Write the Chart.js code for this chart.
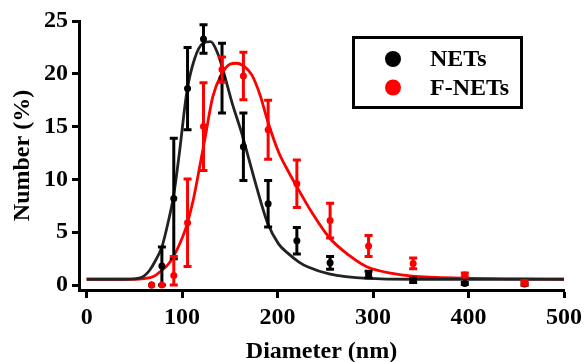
<!DOCTYPE html>
<html>
<head>
<meta charset="utf-8">
<script src="https://cdn.jsdelivr.net/npm/chart.js@4/dist/chart.umd.min.js"></script>
<style>
    body { margin: 0; background: #fff; }
    canvas { display: block; }
</style>
</head>
<body>
<canvas id="size-chart" width="587" height="362"></canvas>
<script>
// DLS size bins (nm)
const sizes = [68.06, 78.82, 91.28, 105.7, 122.4, 141.8, 164.2, 190.1, 220.2, 255.0, 295.3, 342.0, 396.1, 458.7];

// mean number % and error for each bin
const netsMean = [0, 1.8, 8.2, 18.6, 23.3, 19.6, 13.1, 7.7, 4.2, 2.1, 1.0, 0.45, 0.15, 0.1];
const netsErr = [0, 1.8, 5.7, 3.9, 1.35, 3.3, 3.2, 2.2, 1.25, 0.6, 0.3, 0.2, 0.1, 0.1];
const fnetsMean = [0, 0, 0.9, 5.9, 15.0, 20.4, 19.8, 14.7, 9.6, 6.1, 3.7, 2.05, 0.95, 0.2];
const fnetsErr = [0, 0, 1.8, 4.15, 4.15, 1.2, 2.25, 2.8, 2.25, 1.65, 1.0, 0.5, 0.2, 0.2];

// fitted distribution curves
const netsFitX = [0, 40, 50, 55, 60, 66, 72, 78.8, 85, 91, 97, 105, 113, 122, 130, 137, 141.8, 152.5, 162, 170, 177, 189, 201, 211, 222, 232, 254, 294, 342, 400, 500];
const netsFitY = [0.55, 0.55, 0.58, 0.65, 0.85, 1.4, 2.3, 3.6, 5.8, 8.4, 12.4, 18.3, 21.4, 22.9, 23.05, 22.0, 20.7, 17.2, 14.5, 11.9, 9.6, 6.0, 3.9, 3.0, 2.2, 1.7, 1.05, 0.63, 0.55, 0.55, 0.55];
const fnetsFitX = [0, 50, 60, 70, 78.8, 85, 91, 98, 105, 112, 118, 124, 132, 141, 150, 157, 165, 173, 182, 189, 201, 211, 219, 235, 254, 275, 294, 320, 341, 395, 450, 500];
const fnetsFitY = [0.55, 0.55, 0.6, 0.8, 1.4, 1.9, 2.7, 4.0, 5.7, 8.2, 11.0, 13.9, 17.8, 19.9, 20.9, 21.0, 20.7, 19.9, 17.9, 15.7, 12.6, 10.8, 9.5, 7.0, 4.5, 2.8, 1.7, 1.1, 0.85, 0.65, 0.58, 0.55];

const xTicks = [0, 100, 200, 300, 400, 500];
const yTicks = [0, 5, 10, 15, 20, 25];

const black = '#000000';
const red = '#ff0000';
const fontFamily = "'Liberation Serif', 'Times New Roman', serif";

function toPoints(xs, ys) {
    return xs.map((x, i) => ({ x: x, y: ys[i] }));
}

// vertical error bars with caps, drawn just before the dataset's dots
const errorBarPlugin = {
    id: 'errorBars',
    beforeDatasetDraw(chart, args) {
        const ds = chart.data.datasets[args.index];
        if (!ds.errors) return;
        const ctx = chart.ctx;
        const xs = chart.scales.x;
        const ys = chart.scales.y;
        ctx.save();
        ctx.strokeStyle = ds.backgroundColor;
        ctx.lineWidth = 3;
        ds.data.forEach((p, i) => {
            const e = ds.errors[i];
            if (!e) return;
            const px = xs.getPixelForValue(p.x);
            const top = ys.getPixelForValue(p.y + e);
            const bottom = ys.getPixelForValue(Math.max(p.y - e, 0));
            ctx.beginPath();
            ctx.moveTo(px, top);
            ctx.lineTo(px, bottom);
            ctx.moveTo(px - 4, top);
            ctx.lineTo(px + 4, top);
            ctx.moveTo(px - 4, bottom);
            ctx.lineTo(px + 4, bottom);
            ctx.stroke();
        });
        ctx.restore();
    }
};

// boxed legend in the upper right, NETs first
const boxLegendPlugin = {
    id: 'boxLegend',
    afterDraw(chart) {
        const ctx = chart.ctx;
        const items = chart.data.datasets.filter(d => d.errors).sort((a, b) => a.legendRank - b.legendRank);
        ctx.save();
        ctx.strokeStyle = black;
        ctx.lineWidth = 3;
        ctx.strokeRect(353.5, 37.5, 168, 70);
        ctx.font = 'bold 24px ' + fontFamily;
        ctx.textBaseline = 'middle';
        items.forEach((d, i) => {
            const cy = 59 + i * 28.5;
            ctx.fillStyle = d.backgroundColor;
            ctx.beginPath();
            ctx.arc(393, cy, 8, 0, Math.PI * 2);
            ctx.fill();
            ctx.fillStyle = black;
            ctx.fillText(d.label, 430, cy + 1);
        });
        ctx.restore();
    }
};

const ctx = document.getElementById('size-chart').getContext('2d');

new Chart(ctx, {
    data: {
        datasets: [
            {
                type: 'scatter',
                label: 'F-NETs',
                legendRank: 1,
                data: toPoints(sizes, fnetsMean),
                errors: fnetsErr,
                backgroundColor: red,
                borderColor: red,
                pointRadius: 3.5,
                pointBorderWidth: 0,
                order: 0
            },
            {
                type: 'scatter',
                label: 'NETs',
                legendRank: 0,
                data: toPoints(sizes, netsMean),
                errors: netsErr,
                backgroundColor: black,
                borderColor: black,
                pointRadius: 3.5,
                pointBorderWidth: 0,
                order: 1
            },
            {
                type: 'line',
                label: 'NETs fit',
                data: toPoints(netsFitX, netsFitY),
                borderColor: '#222222',
                borderWidth: 2.8,
                pointRadius: 0,
                cubicInterpolationMode: 'monotone',
                fill: false,
                order: 2
            },
            {
                type: 'line',
                label: 'F-NETs fit',
                data: toPoints(fnetsFitX, fnetsFitY),
                borderColor: red,
                borderWidth: 2.8,
                pointRadius: 0,
                cubicInterpolationMode: 'monotone',
                fill: false,
                order: 3
            }
        ]
    },
    options: {
        responsive: false,
        animation: false,
        layout: { padding: { top: 21, right: 19, left: 0, bottom: 0 } },
        plugins: {
            legend: { display: false },
            tooltip: { enabled: false }
        },
        scales: {
            x: {
                type: 'linear',
                min: -8,
                max: 500,
                afterFit: scale => { scale.height = 72; },
                afterBuildTicks: scale => { scale.ticks = xTicks.map(v => ({ value: v })); },
                border: { display: true, width: 3, color: black },
                grid: { drawOnChartArea: false, drawTicks: true, tickLength: 8, tickWidth: 3, tickColor: black },
                ticks: {
                    color: black,
                    padding: 5,
                    maxRotation: 0,
                    font: { family: fontFamily, size: 24, weight: 'bold' }
                },
                title: {
                    display: true,
                    text: 'Diameter (nm)',
                    color: black,
                    padding: { top: 0, bottom: -4 },
                    font: { family: fontFamily, size: 24, weight: 'bold' }
                }
            },
            y: {
                type: 'linear',
                min: -0.47,
                max: 25,
                afterFit: scale => { scale.width = 79; },
                afterBuildTicks: scale => { scale.ticks = yTicks.map(v => ({ value: v })); },
                border: { display: true, width: 3, color: black },
                grid: { drawOnChartArea: false, drawTicks: true, tickLength: 7, tickWidth: 3, tickColor: black },
                ticks: {
                    color: black,
                    padding: 4,
                    font: { family: fontFamily, size: 24, weight: 'bold' }
                },
                title: {
                    display: true,
                    text: 'Number (%)',
                    color: black,
                    padding: { top: 8, bottom: 0 },
                    font: { family: fontFamily, size: 24, weight: 'bold' }
                }
            }
        }
    },
    plugins: [errorBarPlugin, boxLegendPlugin]
});
</script>
</body>
</html>
